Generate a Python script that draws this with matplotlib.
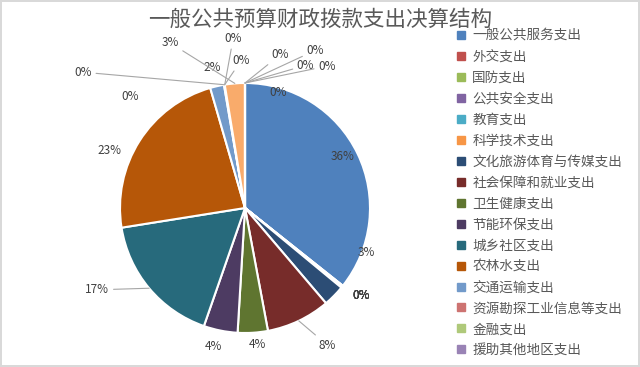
import matplotlib
matplotlib.use("Agg")
import matplotlib.pyplot as plt
from matplotlib.lines import Line2D
import numpy as np

plt.rcParams["font.family"] = ["Noto Sans CJK SC", "DejaVu Sans"]

title = "一般公共预算财政拨款支出决算结构"

categories = [
    "一般公共服务支出", "外交支出", "国防支出", "公共安全支出", "教育支出",
    "科学技术支出", "文化旅游体育与传媒支出", "社会保障和就业支出", "卫生健康支出",
    "节能环保支出", "城乡社区支出", "农林水支出", "交通运输支出",
    "资源勘探工业信息等支出", "金融支出", "援助其他地区支出",
    "自然资源海洋气象等支出", "住房保障支出", "粮油物资储备支出",
    "灾害防治及应急管理支出", "其他支出", "债务付息支出", "债务发行费用支出",
]
# share of total (%)
values = [35.8, 0.0, 0.1, 0.1, 0.0, 0.1, 2.8, 8.3, 3.9, 4.4, 17.2, 23.1, 1.8,
          0.1, 0.0, 0.0, 0.0, 2.6, 0.0, 0.0, 0.0, 0.0, 0.0]
n_legend = 16  # legend in the original is cut after 16 entries

colors = ["#4F81BD", "#C0504D", "#9BBB59", "#8064A2", "#4BACC6", "#F79646",
          "#2C4D75", "#772C2A", "#5F7530", "#4D3B62", "#276A7C", "#B65708",
          "#729ACA", "#CD7371", "#AFC97A", "#9983B5", "#6FBDD1", "#F9AB6B",
          "#3A5F8B", "#8E3B39", "#738C44", "#5C4776", "#358093"]

# label layout: (radius in pie radii, angle clockwise from 12 o'clock)
label_layout = [
    (0.88, 62), (1.16, 127), (1.16, 127), (1.16, 127), (1.16, 127),
    (1.16, 127), (1.03, 110), (1.28, 149), (1.10, 175), (1.14, 193),
    (1.35, 241), (1.18, 293), (1.15, 347), (1.69, 310), (1.28, 314),
    (1.36, 356), (1.18, 358.5), (1.45, 335.6), (1.26, 13), (1.38, 24),
    (1.24, 23), (1.31, 30), (0.96, 16),
]
leader = [False, False, False, False, False, False, False, True, False, False,
          True, False, False, True, False, True, True, True, True, True,
          True, True, False]

W, H = 640, 367
fig = plt.figure(figsize=(W / 100, H / 100), dpi=100)
fig.patch.set_edgecolor("#D9D9D9")
fig.patch.set_linewidth(1.5)

cx, cy, R = 245, 208, 125
ax = fig.add_axes([(cx - R) / W, (H - cy - R) / H, 2 * R / W, 2 * R / H])

wedges, _ = ax.pie(values, colors=colors, startangle=90, counterclock=False,
                   radius=1.0, wedgeprops=dict(edgecolor="white", linewidth=1.5))
ax.set_xlim(-1, 1)
ax.set_ylim(-1, 1)
ax.set_axis_off()

total = sum(values)
for w, v, (r, ang), lead in zip(wedges, values, label_layout, leader):
    txt = f"{v / total * 100:.0f}%"
    a = np.deg2rad(ang)
    tx, ty = r * np.sin(a), r * np.cos(a)
    if lead:
        mid = np.deg2rad((w.theta1 + w.theta2) / 2)
        ax.annotate(txt, xy=(np.cos(mid), np.sin(mid)), xytext=(tx, ty),
                    ha="center", va="center", fontsize=8.5, color="#404040",
                    annotation_clip=False,
                    arrowprops=dict(arrowstyle="-", color="#A6A6A6", lw=0.8,
                                    shrinkA=1, shrinkB=0))
    else:
        ax.text(tx, ty, txt, ha="center", va="center", fontsize=8.5,
                color="#404040", clip_on=False)

fig.text(0.5, 1 - 20 / H, title, ha="center", va="center", fontsize=15.5,
         color="#595959")

handles = [Line2D([], [], marker="s", linestyle="", markersize=6,
                  markerfacecolor=c, markeredgecolor=c) for c in colors[:n_legend]]
fig.legend(handles, categories[:n_legend], loc="upper left",
           bbox_to_anchor=(456 / W, 1 - 29 / H), frameon=False, fontsize=9.8,
           labelcolor="#595959", handlelength=0.8, handletextpad=0.4,
           labelspacing=0.51, borderaxespad=0, borderpad=0)

fig.savefig("out.png", dpi=100, facecolor="white", edgecolor=fig.patch.get_edgecolor())
